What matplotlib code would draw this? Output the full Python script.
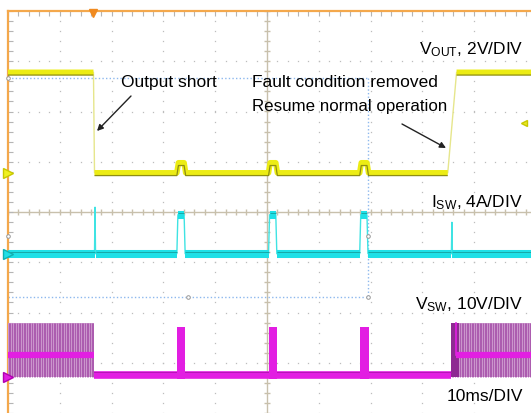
import numpy as np
import matplotlib
matplotlib.use('Agg')
import matplotlib.pyplot as plt

plt.rcParams['font.family'] = ['Liberation Sans', 'DejaVu Sans']
plt.rcParams['mathtext.default'] = 'regular'

W, H = 531, 413
DPI = 100

# ---------------- data ----------------
ms_per_div = 10.0
t_max = 100.97

# VOUT : 2 V/div, ground reference at +0.78 div
vout_scale, vout_offset = 2.0, 0.78
vout_t = [0, 16.5, 16.7, 32.6, 32.9, 34.0, 34.3, 50.3, 50.6, 51.7, 52.0,
          67.9, 68.2, 69.3, 69.6, 84.9, 86.6, 101]
vout_v = [4.0, 4.0, 0.0, 0.0, 0.4, 0.4, 0.0, 0.0, 0.4, 0.4, 0.0,
          0.0, 0.4, 0.4, 0.0, 0.0, 4.0, 4.0]
vout_trigger_level = 2.0

# ISW : 4 A/div, zero at -0.83 div
isw_scale, isw_offset = 4.0, -0.83
isw_t = [0, 16.7, 16.8, 16.9, 32.6, 32.8, 34.0, 34.2, 50.3, 50.5, 51.7, 51.9,
         67.9, 68.1, 69.3, 69.5, 85.6, 85.7, 85.8, 101]
isw_i = [0.0, 0.0, 3.7, 0.0, 0.0, 3.1, 3.1, 0.0, 0.0, 3.1, 3.1, 0.0,
         0.0, 3.1, 3.1, 0.0, 0.0, 2.5, 0.0, 0.0]

# VSW : 10 V/div, ground at -3.28 div
vsw_scale, vsw_offset = 10.0, -3.28
vsw_switch_windows = [(0.0, 16.6), (85.5, 101.0)]
vsw_switch_high = 10.7
vsw_switch_low = -0.1
vsw_switch_mid = 4.4
vsw_short_t = [16.6, 85.5]
vsw_short_v = [0.4, 0.4]
vsw_pulse_windows = [(32.7, 34.2), (50.4, 51.9), (68.0, 69.6)]
vsw_pulse_top = 9.9
vsw_restart_block = (85.5, 87.0)
vsw_mid_start_after = 86.4

# cursors
cursor_t = 69.5
cursor_y = [2.66, -1.69]

labels = {
    'vout': 'V$_{OUT}$, 2V/DIV',
    'isw': 'I$_{SW}$, 4A/DIV',
    'vsw': 'V$_{SW}$, 10V/DIV',
    'time': '10ms/DIV',
    'short': 'Output short',
    'fault1': 'Fault condition removed',
    'fault2': 'Resume normal operation',
}

# ---------------- figure ----------------
fig = plt.figure(figsize=(W / DPI, H / DPI), dpi=DPI)
ax = fig.add_axes([8 / W, 0, 523 / W, 402 / H])
ax.set_xlim(0, t_max)
ax.set_ylim(-4, 4)
ax.set_facecolor('white')

orange = '#F4A84C'
for s in ['right', 'bottom']:
    ax.spines[s].set_visible(False)
for s in ['left', 'top']:
    ax.spines[s].set_color(orange)
    ax.spines[s].set_linewidth(1.6)

ax.set_xticks(np.arange(0, 101, 10))
ax.set_xticks(np.arange(0, 101, 2), minor=True)
ax.set_yticks(np.arange(-4, 4.01, 1))
ax.set_yticks(np.arange(-4, 4.01, 0.2), minor=True)
ax.tick_params(which='both', direction='in', top=True, bottom=False,
               left=True, right=False, labeltop=False, labelbottom=False,
               labelleft=False, color='#B5B5B5', length=3.5, width=0.8)

# grid dots
dot_c = '#BDBDBD'
ys = np.arange(-4, 4.01, 0.2)
for xg in np.arange(10, 100, 10):
    if xg == 50:
        continue
    ax.plot(np.full_like(ys, xg), ys, ls='none', marker='s', ms=0.9,
            color=dot_c, mec='none', zorder=1)
xs = np.arange(0, 101, 2)
for yg in [-3, -2, -1, 1, 2, 3]:
    ax.plot(xs, np.full_like(xs, yg, dtype=float), ls='none', marker='s', ms=0.9,
            color=dot_c, mec='none', zorder=1)

# center lines with ticks
cc = '#C8C0AC'
ax.axhline(0, color=cc, lw=1.0, zorder=1)
ax.axvline(50, color=cc, lw=1.0, zorder=1)
ax.plot(xs, np.zeros_like(xs, dtype=float), ls='none', marker='|', ms=5,
        color=cc, mew=1.0, zorder=1)
ax.plot(np.full_like(ys, 50), ys, ls='none', marker='_', ms=5,
        color=cc, mew=1.0, zorder=1)

# cursors
cur_c = '#8DB8EE'
for cy in cursor_y:
    ax.plot([0, cursor_t], [cy, cy], color=cur_c, lw=1.0, ls=(0, (1, 1.6)), zorder=2)
ax.plot([cursor_t, cursor_t], cursor_y, color=cur_c, lw=1.0, ls=(0, (1, 1.6)), zorder=2)
ax.plot([0, 34.7, cursor_t, cursor_t, 0], [cursor_y[0], cursor_y[1], cursor_y[1], -0.47, -0.47],
        ls='none', marker='o', ms=2.6, mfc='white', mec='#999999', mew=0.7,
        zorder=6, clip_on=False)


def split(t, y, thr):
    t2, y2 = [t[0]], [y[0]]
    for i in range(1, len(t)):
        if abs(y[i] - y[i - 1]) > thr:
            t2.append(np.nan)
            y2.append(np.nan)
        t2.append(t[i])
        y2.append(y[i])
    return np.array(t2), np.array(y2)


# ---- VOUT ----
vt = np.array(vout_t)
vd = vout_offset + np.array(vout_v) / vout_scale
ax.plot(vt, vd, color='#E6E68C', lw=1.0, zorder=4)
tt, yy = split(vt, vd, 1.0)
ax.plot(tt, yy, color='#ECEC14', lw=4.0, zorder=5, solid_capstyle='butt')
ax.plot(tt, yy - 0.055, color='#8E8E12', lw=0.9, zorder=5, solid_capstyle='butt')

# ---- ISW ----
it = np.array(isw_t)
idd = isw_offset + np.array(isw_i) / isw_scale
ax.plot(it, idd, color='#3FE3E3', lw=1.0, zorder=4)
tt, yy = split(it, idd, 0.4)
ax.plot(tt, yy, color='#1EE0E6', lw=5.8, zorder=5, solid_capstyle='butt')
ax.plot(tt, yy + 0.04, color='#16A8A8', lw=0.7, zorder=5, solid_capstyle='butt')

# ---- VSW ----
def vs(v):
    return vsw_offset + np.asarray(v, dtype=float) / vsw_scale

for (a, b) in vsw_switch_windows:
    ax.fill_between([a, b], vs(vsw_switch_low), vs(vsw_switch_high),
                    color='#CB95CC', lw=0, zorder=3)
    ax.vlines(np.arange(a + 0.15, b, 0.32), vs(vsw_switch_low), vs(vsw_switch_high),
              color='#9A3A9E', lw=0.6, alpha=0.75, zorder=3)
# dense restart block
ax.fill_between(list(vsw_restart_block), vs(vsw_switch_low), vs(vsw_switch_high),
                color='#8E2A92', lw=0, zorder=3)
# mid band
mag = '#E21EE2'
ax.plot([vsw_switch_windows[0][0], vsw_switch_windows[0][1]],
        [vs(vsw_switch_mid)] * 2, color=mag, lw=4.5, zorder=5, solid_capstyle='butt')
ax.plot([vsw_mid_start_after, vsw_switch_windows[1][1]],
        [vs(vsw_switch_mid)] * 2, color=mag, lw=4.5, zorder=5, solid_capstyle='butt')
ax.plot([vsw_mid_start_after, vsw_mid_start_after],
        [vs(vsw_switch_mid), vs(vsw_switch_high)], color=mag, lw=1.2, zorder=5)
# short-circuit baseline
ax.plot(vsw_short_t, vs(vsw_short_v), color=mag, lw=5.5, zorder=5, solid_capstyle='butt')
ax.plot(vsw_short_t, vs(vsw_short_v) + 0.06, color='#B010B0', lw=0.6, zorder=5)
for (a, b) in vsw_pulse_windows:
    ax.fill_between([a, b], vs(-0.4), vs(vsw_pulse_top), color=mag, lw=0, zorder=5)

# channel markers on the left edge
ax.plot([0], [vout_offset], marker='>', ms=7, color='#F0F020', mec='#C8C800',
        clip_on=False, zorder=7)
ax.plot([0], [isw_offset], marker='>', ms=7, color='#20E0E8', mec='#10B0B0',
        clip_on=False, zorder=7)
ax.plot([0], [vsw_offset], marker='>', ms=7, color='#E020E0', mec='#B000B0',
        clip_on=False, zorder=7)
# trigger position marker
ax.plot([16.4], [3.96], marker='v', ms=6, color='#F08A20', clip_on=False, zorder=7)
# trigger level marker (right edge)
ax.plot([99.7], [vout_offset + vout_trigger_level / vout_scale], marker='<', ms=5,
        color='#E8E820', mec='#C8C800', clip_on=False, zorder=7)


# ---------------- text ----------------
def fx(px):
    return px / W


def fy(py):
    return 1 - py / H


fs = 12.5
fig.text(fx(523), fy(54), labels['vout'], ha='right', va='baseline', fontsize=fs)
fig.text(fx(523), fy(207), labels['isw'], ha='right', va='baseline', fontsize=fs)
fig.text(fx(523), fy(309), labels['vsw'], ha='right', va='baseline', fontsize=fs)
fig.text(fx(523), fy(401), labels['time'], ha='right', va='baseline', fontsize=fs)
fig.text(fx(121), fy(87), labels['short'], ha='left', va='baseline', fontsize=fs)
fig.text(fx(252), fy(87), labels['fault1'], ha='left', va='baseline', fontsize=fs)
fig.text(fx(252), fy(111), labels['fault2'], ha='left', va='baseline', fontsize=fs - 0.3)

arrow_kw = dict(arrowstyle='-|>', color='#222222', lw=1.0, mutation_scale=9,
                shrinkA=0, shrinkB=0)
ax.annotate('', xy=(fx(97), fy(131)), xytext=(fx(131), fy(96)),
            xycoords='figure fraction', textcoords='figure fraction',
            arrowprops=arrow_kw, zorder=8)
ax.annotate('', xy=(fx(446), fy(148)), xytext=(fx(402), fy(124)),
            xycoords='figure fraction', textcoords='figure fraction',
            arrowprops=arrow_kw, zorder=8)

fig.savefig('out.png', dpi=DPI)
